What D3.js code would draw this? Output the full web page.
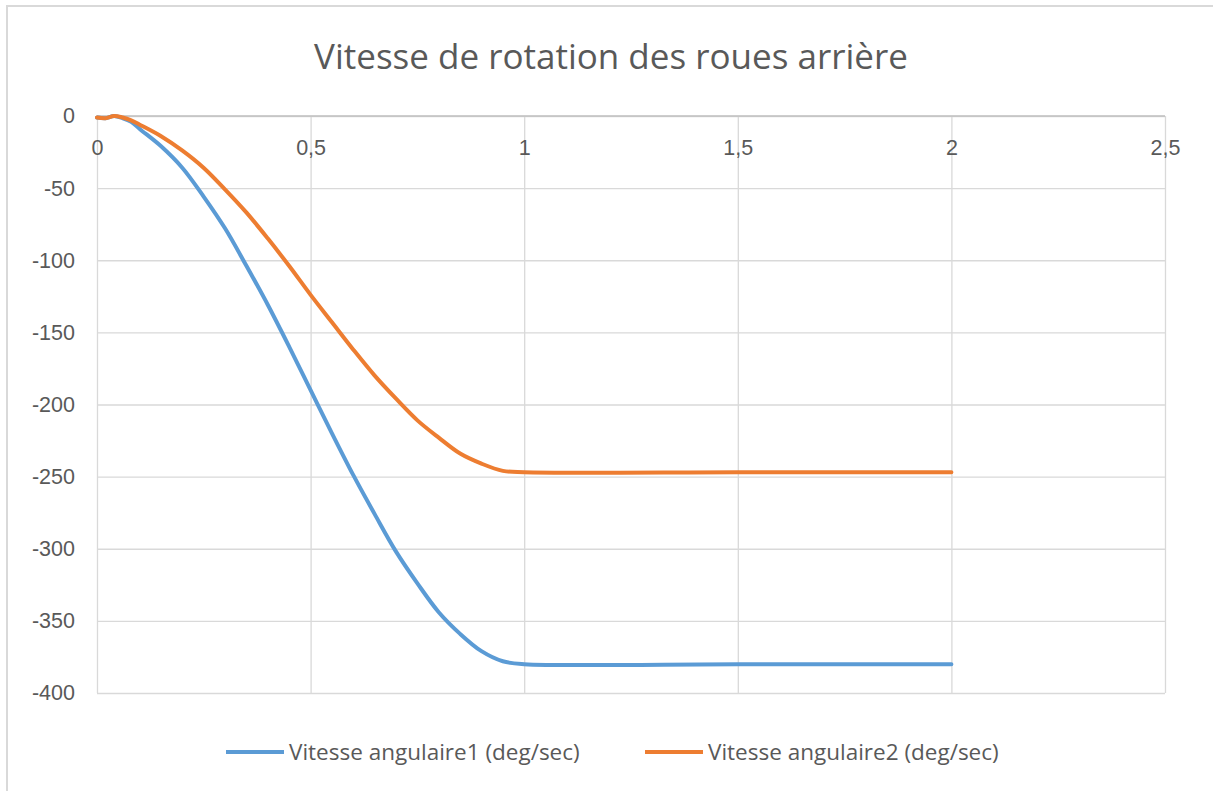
<!DOCTYPE html>
<html>
<head>
<meta charset="utf-8">
<script src="https://cdn.jsdelivr.net/npm/d3@7"></script>
<style>
  body { margin: 0; background: #fff; }
  svg { font-family: "Open Sans", "Noto Sans", sans-serif; }
</style>
</head>
<body>
<svg id="container"></svg>
<script>
// temps (s)
const temps = [0, 0.02, 0.04, 0.06, 0.08, 0.1, 0.15, 0.2, 0.25, 0.3, 0.35, 0.4, 0.45, 0.5,
  0.55, 0.6, 0.65, 0.7, 0.75, 0.8, 0.85, 0.9, 0.95, 1, 1.5, 1.85, 1.9, 2];
// vitesse angulaire 1 (deg/sec)
const vitesse1 = [-1, -1.5, 0, -1.5, -4, -9, -21, -36, -56, -78, -104, -131, -160, -190,
  -220, -249, -276, -302, -324, -344, -359, -371, -378, -380, -380, -380, -380, -380];
// vitesse angulaire 2 (deg/sec)
const vitesse2 = [-1, -1.5, 0, -1, -3, -6, -14, -24, -36, -51, -67, -85, -104, -124,
  -143, -162, -180, -196, -211, -223, -234, -241, -246, -247, -247, -247, -247, -247];

const xTicks = [0, 0.5, 1, 1.5, 2, 2.5];
const yTicks = [0, -50, -100, -150, -200, -250, -300, -350, -400];

const width = 1213, height = 791;
const plot = { left: 97, right: 1165, top: 116, bottom: 693 };

const svg = d3.select("#container").attr("width", width).attr("height", height);

// cadre du graphique
svg.append("rect")
  .attr("x", 7).attr("y", 6).attr("width", width + 10).attr("height", height + 10)
  .attr("fill", "#fff").attr("stroke", "#d9d9d9").attr("stroke-width", 2);

const x = d3.scaleLinear().domain([0, 2.5]).range([plot.left, plot.right]);
const y = d3.scaleLinear().domain([-400, 0]).range([plot.bottom, plot.top]);

const fmt = d => String(d).replace(".", ",");

// grilles
svg.append("g")
  .attr("transform", `translate(0,${plot.bottom})`)
  .call(d3.axisBottom(x).tickValues(xTicks).tickSize(-(plot.bottom - plot.top)).tickFormat(""))
  .call(g => g.select(".domain").remove())
  .call(g => g.selectAll("line").attr("stroke", "#d9d9d9").attr("stroke-width", 1.3));

svg.append("g")
  .attr("transform", `translate(${plot.left},0)`)
  .call(d3.axisLeft(y).tickValues(yTicks).tickSize(-(plot.right - plot.left)).tickFormat(""))
  .call(g => g.select(".domain").remove())
  .call(g => g.selectAll("line").attr("stroke", "#d9d9d9").attr("stroke-width", 1.3));

// étiquettes y
svg.append("g")
  .attr("transform", `translate(${plot.left},0)`)
  .call(d3.axisLeft(y).tickValues(yTicks).tickSize(0).tickPadding(22).tickFormat(fmt))
  .call(g => g.select(".domain").remove())
  .call(g => g.selectAll("text").attr("font-size", 21.5).attr("fill", "#595959"));

// étiquettes x (sous l'axe 0)
svg.append("g")
  .attr("transform", `translate(0,${plot.top})`)
  .call(d3.axisBottom(x).tickValues(xTicks).tickSize(0).tickPadding(24).tickFormat(fmt))
  .call(g => g.select(".domain").remove())
  .call(g => g.selectAll("text").attr("font-size", 21.5).attr("fill", "#595959"));

// axe horizontal à 0
svg.append("line")
  .attr("x1", plot.left).attr("x2", plot.right)
  .attr("y1", y(0)).attr("y2", y(0))
  .attr("stroke", "#bfbfbf").attr("stroke-width", 1.3);

const line = vals => d3.line()
  .x((d, i) => x(temps[i]))
  .y(d => y(d))
  .curve(d3.curveCatmullRom.alpha(0.5))(vals);

svg.append("path").attr("d", line(vitesse1))
  .attr("fill", "none").attr("stroke", "#5b9bd5").attr("stroke-width", 4)
  .attr("stroke-linejoin", "round").attr("stroke-linecap", "round");
svg.append("path").attr("d", line(vitesse2))
  .attr("fill", "none").attr("stroke", "#ed7d31").attr("stroke-width", 4)
  .attr("stroke-linejoin", "round").attr("stroke-linecap", "round");

// titre
svg.append("text")
  .attr("x", 611).attr("y", 69)
  .attr("text-anchor", "middle")
  .attr("font-size", 35).attr("fill", "#595959")
  .text("Vitesse de rotation des roues arrière");

// légende
const legend = [
  { name: "Vitesse angulaire1 (deg/sec)", color: "#5b9bd5", x: 226 },
  { name: "Vitesse angulaire2 (deg/sec)", color: "#ed7d31", x: 645 }
];
const lg = svg.append("g").selectAll("g").data(legend).join("g")
  .attr("transform", d => `translate(${d.x},752)`);
lg.append("line").attr("x1", 0).attr("x2", 58).attr("y1", 0).attr("y2", 0)
  .attr("stroke", d => d.color).attr("stroke-width", 4);
lg.append("text").attr("x", 63).attr("y", 8)
  .attr("font-size", 22.5).attr("fill", "#595959")
  .text(d => d.name);
</script>
</body>
</html>
